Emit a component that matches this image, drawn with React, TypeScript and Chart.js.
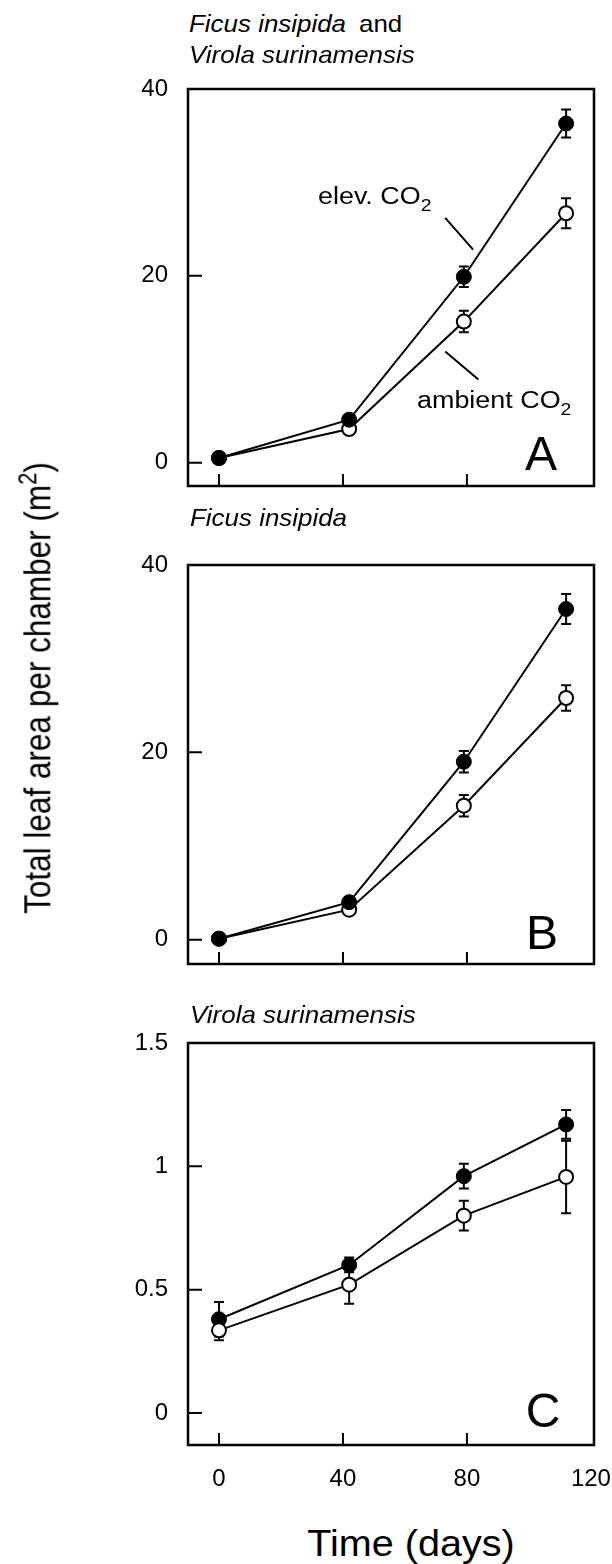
import React, { useEffect, useRef } from 'react';
import { Chart, registerables } from 'chart.js';

Chart.register(...registerables);

// ---------- data ----------
const days = [0, 42, 79, 112];
const xTicks = [0, 40, 80, 120];

const yTicksAB = [0, 20, 40];
const yTicksC = [0, 0.5, 1, 1.5];

// Panel A: Ficus insipida and Virola surinamensis
const elevA = [0.5, 4.6, 19.9, 36.3];
const elevAErr = [0.3, 0.4, 1.1, 1.5];
const ambA = [0.5, 3.6, 15.1, 26.7];
const ambAErr = [0.3, 0.4, 1.15, 1.6];

// Panel B: Ficus insipida
const elevB = [0.1, 4.0, 19.0, 35.3];
const elevBErr = [0.2, 0.4, 1.15, 1.6];
const ambB = [0.1, 3.2, 14.3, 25.8];
const ambBErr = [0.2, 0.4, 1.15, 1.35];

// Panel C: Virola surinamensis
const elevC = [0.38, 0.6, 0.96, 1.17];
const elevCErr = [0.07, 0.03, 0.05, 0.058];
const ambC = [0.335, 0.52, 0.8, 0.957];
const ambCErr = [0.04, 0.077, 0.06, 0.147];

// leader lines for annotations in panel A (data coordinates)
const leadersA = [
  { x1: 73, y1: 26.2, x2: 82, y2: 22.8 },
  { x1: 73, y1: 11.9, x2: 83.7, y2: 8.9 },
];

const FONT = "'Liberation Sans', Arial, Helvetica, sans-serif";

type PanelProps = {
  top: number;
  height: number;
  xAxisH: number;
  yMin: number;
  yMax: number;
  yTicks: number[];
  elev: number[];
  elevErr: number[];
  amb: number[];
  ambErr: number[];
  showXLabels: boolean;
  ambientOnTop: boolean;
  leaders?: { x1: number; y1: number; x2: number; y2: number }[];
};

function Panel(p: PanelProps) {
  const ref = useRef<HTMLCanvasElement | null>(null);
  useEffect(() => {
    if (!ref.current) return;
    const errs = [p.ambErr, p.elevErr];
    const plugin = {
      id: 'frameAndErrors',
      beforeDatasetsDraw(chart: any) {
        const { ctx, scales } = chart;
        const xs = scales.x, ys = scales.y;
        ctx.save();
        ctx.strokeStyle = '#000';
        ctx.lineWidth = 2;
        chart.data.datasets.forEach((ds: any, di: number) => {
          ds.data.forEach((pt: any, i: number) => {
            const e = errs[di][i];
            const px = xs.getPixelForValue(pt.x);
            const y1 = ys.getPixelForValue(pt.y + e);
            const y2 = ys.getPixelForValue(pt.y - e);
            ctx.beginPath();
            ctx.moveTo(px, y1);
            ctx.lineTo(px, y2);
            ctx.moveTo(px - 5, y1);
            ctx.lineTo(px + 5, y1);
            ctx.moveTo(px - 5, y2);
            ctx.lineTo(px + 5, y2);
            ctx.stroke();
          });
        });
        ctx.restore();
      },
      afterDraw(chart: any) {
        const { ctx, chartArea, scales } = chart;
        const xs = scales.x, ys = scales.y;
        ctx.save();
        ctx.strokeStyle = '#000';
        // inward tick marks
        ctx.lineWidth = 2;
        ctx.beginPath();
        xs.ticks.forEach((t: any) => {
          const px = xs.getPixelForValue(t.value);
          if (px < chartArea.right - 6 && px > chartArea.left + 6) {
            ctx.moveTo(px, chartArea.bottom);
            ctx.lineTo(px, chartArea.bottom - 12);
          }
        });
        ys.ticks.forEach((t: any) => {
          const py = ys.getPixelForValue(t.value);
          if (py > chartArea.top + 6 && py < chartArea.bottom - 6) {
            ctx.moveTo(chartArea.left, py);
            ctx.lineTo(chartArea.left + 14, py);
          }
        });
        ctx.stroke();
        // leader lines
        if (p.leaders) {
          ctx.lineWidth = 2;
          ctx.beginPath();
          p.leaders.forEach((l) => {
            ctx.moveTo(xs.getPixelForValue(l.x1), ys.getPixelForValue(l.y1));
            ctx.lineTo(xs.getPixelForValue(l.x2), ys.getPixelForValue(l.y2));
          });
          ctx.stroke();
        }
        // frame
        ctx.lineWidth = 2.5;
        ctx.strokeRect(
          chartArea.left,
          chartArea.top,
          chartArea.right - chartArea.left,
          chartArea.bottom - chartArea.top
        );
        ctx.restore();
      },
    };

    const chart = new Chart(ref.current, {
      type: 'line',
      data: {
        datasets: [
          {
            label: 'ambient CO2',
            data: days.map((d, i) => ({ x: d, y: p.amb[i] })),
            borderColor: '#000',
            borderWidth: 2,
            pointRadius: 7,
            pointBorderWidth: 2,
            pointBackgroundColor: '#fff',
            pointBorderColor: '#000',
            order: p.ambientOnTop ? 0 : 1,
            fill: false,
            tension: 0,
          },
          {
            label: 'elev. CO2',
            data: days.map((d, i) => ({ x: d, y: p.elev[i] })),
            borderColor: '#000',
            borderWidth: 2,
            pointRadius: 7.5,
            pointBorderWidth: 1,
            pointBackgroundColor: '#000',
            pointBorderColor: '#000',
            order: p.ambientOnTop ? 1 : 0,
            fill: false,
            tension: 0,
          },
        ],
      },
      options: {
        animation: false,
        responsive: false,
        devicePixelRatio: 1,
        layout: { padding: { top: 29, right: 18, left: 0, bottom: 0 } },
        plugins: { legend: { display: false }, tooltip: { enabled: false } },
        scales: {
          x: {
            type: 'linear',
            min: -10,
            max: 121,
            grid: { display: false, drawTicks: false },
            border: { display: false },
            afterBuildTicks: (s: any) => {
              s.ticks = xTicks.map((v) => ({ value: v }));
            },
            afterFit: (s: any) => {
              s.height = p.xAxisH;
              s.paddingLeft = 0;
              s.paddingRight = 0;
              s.paddingTop = 0;
              s.paddingBottom = 0;
            },
            ticks: {
              display: p.showXLabels,
              padding: 20,
              color: '#000',
              font: { family: FONT, size: 24 },
              maxRotation: 0,
              callback: (v: any) => String(v),
            },
          },
          y: {
            type: 'linear',
            min: p.yMin,
            max: p.yMax,
            grid: { display: false, drawTicks: false },
            border: { display: false },
            afterBuildTicks: (s: any) => {
              s.ticks = p.yTicks.map((v) => ({ value: v }));
            },
            afterFit: (s: any) => {
              s.width = 188;
              s.paddingLeft = 0;
              s.paddingRight = 0;
              s.paddingTop = 0;
              s.paddingBottom = 0;
            },
            ticks: {
              padding: 20,
              color: '#000',
              font: { family: FONT, size: 24 },
              callback: (v: any) => String(v),
            },
          },
        },
      },
      plugins: [plugin],
    } as any);
    return () => chart.destroy();
  }, []);
  return (
    <canvas
      ref={ref}
      width={612}
      height={p.height}
      style={{ position: 'absolute', left: 0, top: p.top, width: 612, height: p.height }}
    />
  );
}

function Txt(props: { left: number; top: number; size: number; style?: any; children: any }) {
  return (
    <div
      style={{
        position: 'absolute',
        left: props.left,
        top: props.top,
        fontSize: props.size,
        lineHeight: 1,
        fontFamily: FONT,
        whiteSpace: 'nowrap',
        color: '#000',
        ...(props.style || {}),
      }}
    >
      {props.children}
    </div>
  );
}

const titleStyle = { transform: 'scaleX(1.08)', transformOrigin: '0 0' };
const annStyle = { transform: 'scaleX(1.17)', transformOrigin: '0 0' };
const subStyle = { fontSize: '0.72em', position: 'relative' as const, top: '0.42em' };
const letterStyle = { transform: 'translateX(-50%)' };

export default function App() {
  return (
    <div
      style={{
        position: 'absolute',
        left: 0,
        top: 0,
        width: 612,
        height: 1564,
        background: '#fff',
        overflow: 'hidden',
      }}
    >
      <Panel
        top={60}
        height={446}
        xAxisH={20}
        yMin={-2.5}
        yMax={40}
        yTicks={yTicksAB}
        elev={elevA}
        elevErr={elevAErr}
        amb={ambA}
        ambErr={ambAErr}
        showXLabels={false}
        ambientOnTop={false}
        leaders={leadersA}
      />
      <Panel
        top={536}
        height={448}
        xAxisH={20}
        yMin={-2.6}
        yMax={40}
        yTicks={yTicksAB}
        elev={elevB}
        elevErr={elevBErr}
        amb={ambB}
        ambErr={ambBErr}
        showXLabels={false}
        ambientOnTop={false}
      />
      <Panel
        top={1014}
        height={491}
        xAxisH={60}
        yMin={-0.13}
        yMax={1.5}
        yTicks={yTicksC}
        elev={elevC}
        elevErr={elevCErr}
        amb={ambC}
        ambErr={ambCErr}
        showXLabels={true}
        ambientOnTop={true}
      />

      {/* panel titles */}
      <Txt left={189} top={12.4} size={24} style={titleStyle}>
        <i>Ficus insipida</i>
        <span style={{ marginLeft: 12 }}>and</span>
      </Txt>
      <Txt left={189} top={43} size={24} style={titleStyle}>
        <i>Virola surinamensis</i>
      </Txt>
      <Txt left={190} top={506.4} size={24} style={titleStyle}>
        <i>Ficus insipida</i>
      </Txt>
      <Txt left={190} top={1003} size={24} style={titleStyle}>
        <i>Virola surinamensis</i>
      </Txt>

      {/* annotations */}
      <Txt left={318} top={184.8} size={23} style={annStyle}>
        elev. CO<span style={subStyle}>2</span>
      </Txt>
      <Txt left={417} top={388.8} size={23} style={annStyle}>
        ambient CO<span style={subStyle}>2</span>
      </Txt>

      {/* panel letters */}
      <Txt left={541} top={429.6} size={48} style={letterStyle}>A</Txt>
      <Txt left={542} top={908.6} size={48} style={letterStyle}>B</Txt>
      <Txt left={543} top={1386.6} size={48} style={letterStyle}>C</Txt>

      {/* axis titles */}
      <Txt
        left={411}
        top={1526.2}
        size={36}
        style={{ transform: 'translateX(-50%) scaleX(1.1)' }}
      >
        Time (days)
      </Txt>
      <Txt
        left={38}
        top={687.5}
        size={31.5}
        style={{
          transformOrigin: '0 0',
          transform: 'rotate(-90deg) scaleY(1.18) translate(-50%, -50%)',
        }}
      >
        Total leaf area per chamber (m
        <span style={{ fontSize: '0.7em', position: 'relative', top: '-0.55em' }}>2</span>)
      </Txt>
    </div>
  );
}
